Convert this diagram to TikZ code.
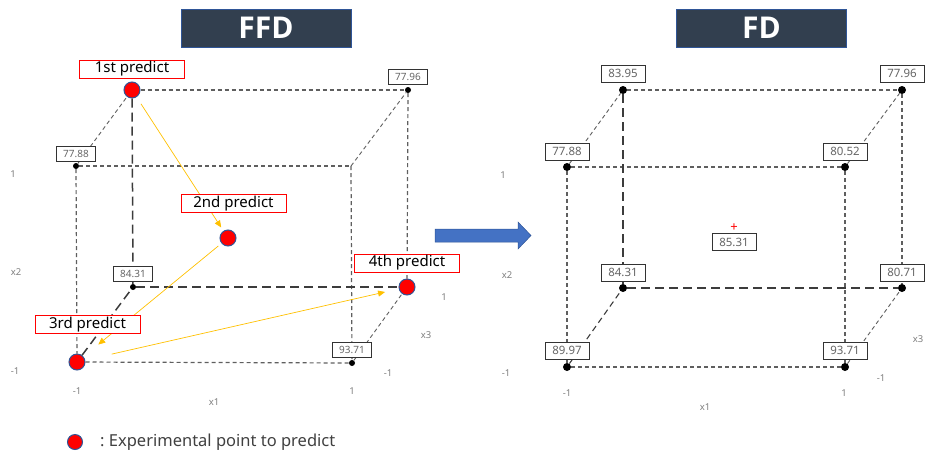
\documentclass[tikz,border=0pt]{standalone}
\usepackage{fontspec}
\setmainfont{Noto Sans}
\newfontfamily\titlefont{Open Sans}
\usepackage{tikz}
\definecolor{navy}{RGB}{50, 63, 79}
\definecolor{navyedge}{RGB}{47, 85, 151}
\definecolor{ptred}{RGB}{255, 0, 0}
\definecolor{gold}{RGB}{255, 192, 0}
\definecolor{arrowblue}{RGB}{68, 114, 196}
\definecolor{edgegray}{RGB}{95, 95, 95}
\definecolor{hidgray}{RGB}{60, 60, 60}
\definecolor{axgray}{RGB}{128, 128, 128}
\usetikzlibrary{positioning}
\usetikzlibrary{arrows.meta}

\begin{document}
\begin{tikzpicture}[
  every node/.style={inner sep=0pt},
  dot/.style={circle, minimum size=6pt, fill=black},
  dotR/.style={circle, minimum size=8pt, fill=black},
  redpt/.style={circle, minimum size=16pt, fill=ptred, draw=navyedge, line width=1pt},
  valbox/.style={rectangle, draw=black!80, fill=white, line width=0.9pt, minimum width=39pt, minimum height=15pt, font=\fontsize{10}{11}\selectfont, text=black!60},
  valboxR/.style={valbox, minimum width=44pt, minimum height=17pt, font=\fontsize{11.5}{12}\selectfont},
  predbox/.style={rectangle, draw=ptred, fill=white, line width=0.9pt, minimum width=105pt, minimum height=18pt, font=\fontsize{15}{16}\selectfont},
  titlebox/.style={rectangle, fill=navy, draw=navyedge, line width=0.8pt, minimum width=170pt, minimum height=38pt, text=white, font=\titlefont\fontsize{30}{32}\selectfont\bfseries},
  axlab/.style={text=axgray, font=\fontsize{9.5}{10}\selectfont},
  edge/.style={line width=1.2pt, color=edgegray, dash pattern=on 4pt off 3pt},
  depth/.style={line width=0.9pt, color=edgegray, dash pattern=on 4pt off 3pt},
  hidden/.style={line width=1.5pt, color=hidgray, dash pattern=on 9pt off 5pt},
  seq/.style={line width=0.7pt, color=gold, -{Triangle[length=7pt, width=6pt]}}
]
\useasboundingbox (0pt, 0pt) rectangle (933pt, -453pt);

% titles
\node (t1) [titlebox] at (266pt, -28pt) {FFD};
\node (t2) [titlebox] at (761.5pt, -28pt) {FD};

% FFD cube
\node (l1) [redpt] at (132pt, -90pt) {};
\node (l2) [dot] at (408pt, -90pt) {};
\node (l3) [dot] at (76pt, -166pt) {};
\coordinate (c4) at (351pt, -166pt);
\node (l5) [dot] at (133pt, -287pt) {};
\node (l6) [redpt] at (407pt, -287pt) {};
\node (l7) [redpt] at (77pt, -362pt) {};
\node (l8) [dot] at (352pt, -363pt) {};
\node (p2) [redpt] at (228pt, -238pt) {};
\draw [edge] (l1) to (l2);
\draw [edge] (l3) to (c4);
\draw [depth] (l3) to (l1);
\draw [depth] (c4) to (l2);
\draw [edge] (l3) to (l7);
\draw [hidden] (l1) to (l5);
\draw [edge] (c4) to (l8);
\draw [edge] (l2) to (l6);
\draw [hidden] (l5) to (l6);
\draw [edge] (l7) to (l8);
\draw [hidden] (l7) to (l5);
\draw [depth] (l8) to (l6);
\node (v1) [valbox, above=2pt of l2] {77.96};
\node (v2) [valbox, above=1pt of l3] {77.88};
\node (v3) [valbox, above=2pt of l5] {84.31};
\node (v4) [valbox, above=2pt of l8] {93.71};

% prediction order
\draw [seq, shorten <=8pt, shorten >=4pt] (l1) to (p2);
\draw [seq, shorten <=4pt, shorten >=19pt] (p2) to (l7);
\draw [seq, shorten <=27pt, shorten >=14pt] (l7) to (l6);
\node (n1) [predbox, above=3pt of l1] {1st predict};
\node (n2) [predbox] at (233.5pt, -203.5pt) {2nd predict};
\node (n3) [predbox] at (87.5pt, -324.5pt) {3rd predict};
\node (n4) [predbox, above=6pt of l6] {4th predict};

% FFD axes
\node (a1) [axlab] at (13pt, -174pt) {1};
\node (a2) [axlab] at (16pt, -272pt) {x2};
\node (a3) [axlab] at (15pt, -371pt) {-1};
\node (a4) [axlab] at (77pt, -391pt) {-1};
\node (a5) [axlab] at (352pt, -391pt) {1};
\node (a6) [axlab] at (214pt, -402pt) {x1};
\node (a7) [axlab] at (444pt, -297pt) {1};
\node (a8) [axlab] at (426pt, -335pt) {x3};
\node (a9) [axlab] at (388pt, -373pt) {-1};

% blue arrow
\fill [arrowblue, draw=navyedge, line width=0.5pt] (435pt, -229pt) -- (518pt, -229pt) -- (518pt, -222pt) -- (531pt, -235.5pt) -- (518pt, -249pt) -- (518pt, -242pt) -- (435pt, -242pt) -- cycle;

% FD cube
\node (r1) [dotR] at (623pt, -90pt) {};
\node (r2) [dotR] at (902pt, -90pt) {};
\node (r3) [dotR] at (567pt, -167pt) {};
\node (r4) [dotR] at (845pt, -167pt) {};
\node (r5) [dotR] at (623pt, -288pt) {};
\node (r6) [dotR] at (902pt, -288pt) {};
\node (r7) [dotR] at (567pt, -367pt) {};
\node (r8) [dotR] at (845pt, -367pt) {};
\draw [edge] (r1) to (r2);
\draw [edge] (r3) to (r4);
\draw [depth] (r3) to (r1);
\draw [depth] (r4) to (r2);
\draw [edge] (r3) to (r7);
\draw [hidden] (r1) to (r5);
\draw [edge] (r4) to (r8);
\draw [edge] (r2) to (r6);
\draw [hidden] (r5) to (r6);
\draw [edge] (r7) to (r8);
\draw [hidden, line width=1.1pt, dash pattern=on 6pt off 4pt] (r7) to (r5);
\draw [depth] (r8) to (r6);
\node (w1) [valboxR, above=3pt of r1] {83.95};
\node (w2) [valboxR, above=3pt of r2] {77.96};
\node (w3) [valboxR, above=2pt of r3] {77.88};
\node (w4) [valboxR, above=2pt of r4] {80.52};
\node (w5) [valboxR, above=2pt of r5] {84.31};
\node (w6) [valboxR, above=2pt of r6] {80.71};
\node (w7) [valboxR, above=3pt of r7] {89.97};
\node (w8) [valboxR, above=3pt of r8] {93.71};
\node (ctr) [text=ptred, font=\fontsize{13}{13}\selectfont\bfseries] at (734pt, -228pt) {+};
\node (w9) [valboxR] at (734pt, -242pt) {85.31};

% FD axes
\node (b1) [axlab] at (503pt, -175pt) {1};
\node (b2) [axlab] at (507pt, -275pt) {x2};
\node (b3) [axlab] at (506pt, -373pt) {-1};
\node (b4) [axlab] at (567pt, -393pt) {-1};
\node (b5) [axlab] at (844pt, -393pt) {1};
\node (b6) [axlab] at (705pt, -407pt) {x1};
\node (b7) [axlab] at (918pt, -339pt) {x3};
\node (b8) [axlab] at (881pt, -378pt) {-1};

% legend
\node (k1) [redpt, minimum size=15pt] at (75pt, -442pt) {};
\node (k2) [anchor=west, text=black!75, font=\fontsize{16.5}{17}\selectfont] at (100pt, -442pt) {:\ Experimental point to predict};
\end{tikzpicture}
\end{document}
